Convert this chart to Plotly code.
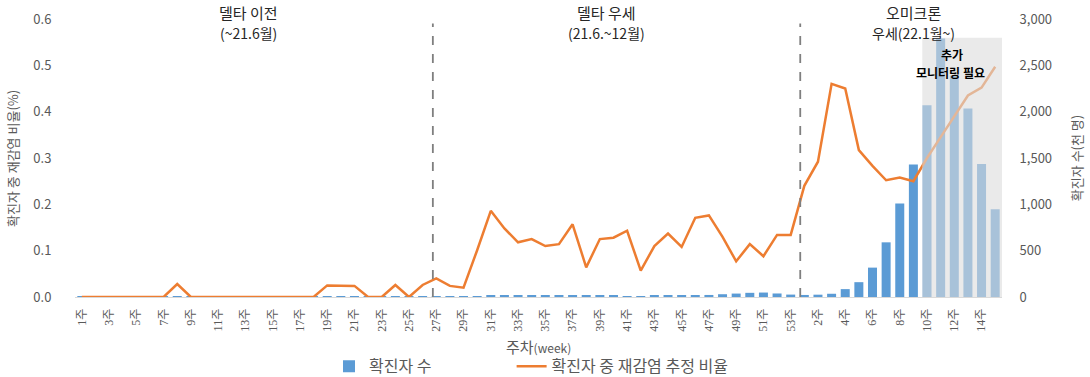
import plotly.graph_objects as go

# ---- data ----
weeks_2021 = [f"{i}주" for i in range(1, 54)]
weeks_2022 = [f"{i}주" for i in range(1, 16)]
week_labels = weeks_2021 + weeks_2022

# confirmed cases (thousand persons)
cases_2021 = [5.5, 4.5, 3.5, 2.8, 2.5, 2.5, 2.9, 2.9, 3.0, 3.1, 3.0, 3.3, 3.5, 3.4, 3.5, 4.2,
              4.5, 4.6, 4.6, 4.3, 4.2, 3.9, 3.8, 3.6, 3.5, 4.0,
              5.0, 8.0, 9.7, 10.5, 11.5, 11.0, 12.5, 12.0, 11.8, 12.7, 11.0, 13.5, 14.5, 12.6,
              10.5, 9.5, 11.0, 14.5, 16.0, 19.5, 22.0, 30.0, 37.0, 45.0, 48.0, 38.0, 26.0]
cases_2022 = [22, 25, 35, 85, 160, 317, 590, 1010, 1430, 2070, 2790, 2390, 2035, 1435, 948]
cases = cases_2021 + cases_2022

# estimated reinfection ratio among confirmed cases (%)
ratio_2021 = [0, 0, 0, 0, 0, 0, 0, 0.028, 0, 0, 0, 0, 0, 0, 0, 0, 0, 0,
              0.025, 0.024, 0.024, 0, 0, 0.026, 0, 0.026, 0.040, 0.024, 0.020, 0.101,
              0.186, 0.148, 0.118, 0.125, 0.110, 0.114, 0.157, 0.064, 0.125, 0.128,
              0.143, 0.057, 0.110, 0.137, 0.108, 0.171, 0.176, 0.130, 0.077, 0.114,
              0.088, 0.134, 0.134]
ratio_2022 = [0.240, 0.292, 0.460, 0.450, 0.317, 0.283, 0.252, 0.258, 0.250, 0.300,
              0.345, 0.390, 0.435, 0.452, 0.497]
ratio = ratio_2021 + ratio_2022

x_idx = list(range(len(week_labels)))
tick_idx = x_idx[::2]
tick_txt = [week_labels[i] for i in tick_idx]

period_titles = ["델타 이전", "델타 우세", "오미크론"]
period_subtitles = ["(~21.6월)", "(21.6.~12월)", "우세(22.1월~)"]
period_centers = [12.2, 38.5, 61.0]
boundaries = [25.75, 52.7]

KFONT = "Noto Sans CJK KR, Noto Sans, sans-serif"
GREY = "#595959"

fig = go.Figure()
fig.add_trace(go.Bar(
    x=x_idx, y=cases, name="확진자 수", marker_color="#5B9BD5",
    marker_line_width=0, width=0.66, yaxis="y", legend="legend",
))
fig.add_trace(go.Scatter(
    x=x_idx, y=ratio, name="확진자 중 재감염 추정 비율", mode="lines",
    line=dict(color="#ED7D31", width=2.5), yaxis="y2", legend="legend2",
))

shapes = []
for b in boundaries:
    shapes.append(dict(type="line", xref="x", yref="paper", x0=b, x1=b, y0=0, y1=0.984,
                       line=dict(color="#7F7F7F", width=1.8, dash="dash"), layer="above"))
shapes.append(dict(type="rect", xref="x", yref="paper", x0=61.65, x1=67.5, y0=0, y1=0.933,
                   fillcolor="rgba(220,220,220,0.6)", line_width=0, layer="above"))

annotations = []
for c, t, s in zip(period_centers, period_titles, period_subtitles):
    annotations.append(dict(x=c, xref="x", y=1.022, yref="paper", text=t, showarrow=False,
                            font=dict(family=KFONT, size=15, color="#262626"),
                            xanchor="center", yanchor="middle"))
    annotations.append(dict(x=c, xref="x", y=0.95, yref="paper", text=s, showarrow=False,
                            font=dict(family=KFONT, size=14, color="#262626"),
                            xanchor="center", yanchor="middle"))
annotations.append(dict(x=63.8, xref="x", y=0.871, yref="paper", text="<b>추가</b>", showarrow=False,
                        font=dict(family=KFONT, size=12, color="#000000"),
                        xanchor="center", yanchor="middle"))
annotations.append(dict(x=63.7, xref="x", y=0.809, yref="paper", text="<b>모니터링 필요</b>", showarrow=False,
                        font=dict(family=KFONT, size=12, color="#000000"),
                        xanchor="center", yanchor="middle"))
annotations.append(dict(x=0.5, xref="paper", y=-0.178, yref="paper",
                        text="주차<span style='font-size:12px'>(week)</span>", showarrow=False,
                        font=dict(family=KFONT, size=15, color=GREY), xanchor="center", yanchor="middle"))
annotations.append(dict(x=-0.068, xref="paper", y=0.5, yref="paper", text="확진자 중 재감염 비율(%)",
                        textangle=-90, showarrow=False, xanchor="center", yanchor="middle",
                        font=dict(family=KFONT, size=13, color=GREY)))
annotations.append(dict(x=1.080, xref="paper", y=0.5, yref="paper", text="확진자 수(천 명)",
                        textangle=-90, showarrow=False, xanchor="center", yanchor="middle",
                        font=dict(family=KFONT, size=13, color=GREY)))

legend_style = dict(orientation="h", yanchor="top", y=-0.188, xanchor="left",
                    font=dict(family=KFONT, size=16, color=GREY), bgcolor="rgba(0,0,0,0)")

fig.update_layout(
    width=1090, height=377,
    margin=dict(l=75, r=88, t=19, b=80, autoexpand=False),
    paper_bgcolor="white", plot_bgcolor="white",
    font=dict(family=KFONT, color=GREY),
    showlegend=True,
    legend=dict(x=0.274, **legend_style),
    legend2=dict(x=0.471, **legend_style),
    xaxis=dict(range=[-0.5, 67.5], tickmode="array", tickvals=tick_idx, ticktext=tick_txt,
               tickangle=-90, tickfont=dict(family="Liberation Serif, Noto Sans CJK KR", size=12, color=GREY),
               ticks="outside", ticklen=6, tickcolor="rgba(0,0,0,0)", automargin=False,
               showgrid=False, zeroline=False, showline=True, linecolor="#D9D9D9", linewidth=1),
    yaxis=dict(side="right", range=[0, 3000], tickvals=[0, 500, 1000, 1500, 2000, 2500, 3000],
               tickformat=",", showgrid=False, zeroline=False, automargin=False,
               ticks="outside", ticklen=14, tickcolor="rgba(0,0,0,0)",
               tickfont=dict(family=KFONT, size=13, color=GREY)),
    yaxis2=dict(side="left", overlaying="y", range=[0, 0.6],
                tickvals=[0, 0.1, 0.2, 0.3, 0.4, 0.5, 0.6], tickformat=".1f",
                showgrid=False, zeroline=False, automargin=False,
                ticks="outside", ticklen=20, tickcolor="rgba(0,0,0,0)",
                tickfont=dict(family=KFONT, size=13, color=GREY)),
    shapes=shapes, annotations=annotations, bargap=0.34,
)

# remove the default page margin so the figure sits at the window's top-left corner
fig.write_html("out.html", config={"displayModeBar": False},
               post_script="document.body.style.margin='0';")
